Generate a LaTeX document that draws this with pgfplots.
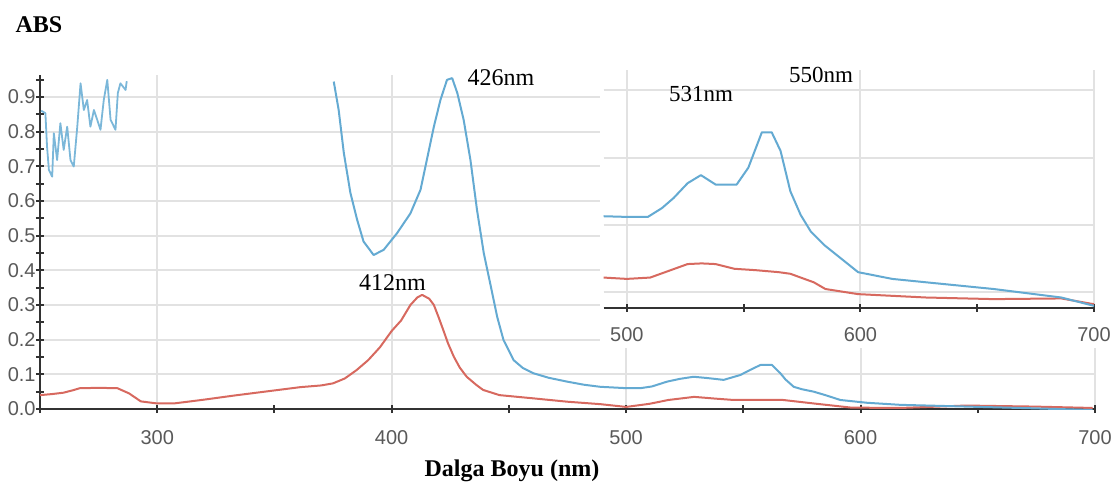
\documentclass[border=0pt]{standalone}
\usepackage{pgfplots}
\pgfplotsset{compat=1.18}
\usepackage{fontspec}
\setmainfont{Liberation Serif}
\newfontfamily\ticksans{Liberation Sans}
\definecolor{cblue}{RGB}{100,170,210}
\definecolor{cred}{RGB}{215,105,95}
\definecolor{cgrid}{RGB}{226,226,226}
\definecolor{caxis}{RGB}{50,50,50}
\begin{document}
\begin{tikzpicture}
\path[use as bounding box] (0pt,0pt) rectangle (559pt,242pt);
\begin{axis}[
  at={(20pt,37.5pt)}, anchor=south west, scale only axis,
  width=527.5pt, height=167pt,
  xmin=250, xmax=700, ymin=0, ymax=0.963,
  axis x line*=bottom, axis y line*=left,
  axis line style={line width=1pt, color=caxis},
  xtick={300,400,500,600,700}, xticklabels={300,400,500,600,700},
  minor xtick={250,350,450,550,650},
  ytick={0,0.1,0.2,0.3,0.4,0.5,0.6,0.7,0.8,0.9},
  yticklabels={0.0,0.1,0.2,0.3,0.4,0.5,0.6,0.7,0.8,0.9},
  minor ytick={0.05,0.15,0.25,0.35,0.45,0.55,0.65,0.75,0.85,0.95},
  tick align=center, major tick length=4pt, minor tick length=4pt,
  every tick/.style={line width=1pt, caxis},
  grid=major, major grid style={cgrid, line width=1pt},
  tick label style={font=\ticksans\fontsize{10}{12}\selectfont, text=black!65},
  xticklabel style={yshift=-5pt},
  yticklabel style={inner sep=1.5pt, xshift=1.5pt},
]
% red (main)
\addplot[cred, line width=1pt, line join=round] coordinates {
(250,0.040)(255,0.043)(260,0.047)(264,0.054)(267,0.060)(275,0.061)(283,0.060)
(288,0.045)(293,0.022)(300,0.016)(307,0.016)(313,0.021)(320,0.027)(333,0.039)
(347,0.051)(361,0.063)(370,0.068)(375,0.074)(380,0.088)(385,0.112)(390,0.141)
(395,0.178)(400,0.225)(404,0.255)(408,0.300)(411,0.322)(413,0.329)(416,0.318)
(418,0.300)(420,0.265)(422,0.228)(424,0.190)(426.5,0.151)(429,0.120)(432,0.093)
(436,0.070)(439,0.055)(446,0.040)(460,0.031)(475,0.021)(489,0.014)(500,0.006)
(510,0.015)(518,0.026)(529,0.035)(538,0.030)(546,0.026)(567,0.026)(580,0.016)
(596,0.004)(617,0.003)(645,0.010)(674,0.007)(699,0.003)};
% blue noisy start
\addplot[cblue!85, line width=0.9pt, line join=round] coordinates {
(250.5,0.86)(252.3,0.853)(253,0.757)(253.8,0.689)(255.2,0.670)(255.9,0.795)(257.3,0.718)
(258.7,0.824)(260.1,0.747)(261.6,0.814)(263,0.718)(264.4,0.699)(265.9,0.814)
(267.3,0.939)(268.7,0.862)(270.1,0.891)(271.5,0.814)(273,0.862)(274.4,0.834)
(275.8,0.805)(277.2,0.891)(278.7,0.949)(280.1,0.834)(282.2,0.805)(283.2,0.911)
(284.3,0.939)(286.5,0.920)(287,0.945)};
% blue main
\addplot[cblue, line width=1pt, line join=round] coordinates {
(375.3,0.944)(377.4,0.862)(379.6,0.738)(382.4,0.623)(385.3,0.545)(388,0.483)
(392.3,0.444)(396.6,0.459)(402.3,0.507)(408,0.564)(412.3,0.632)(415,0.718)
(418,0.814)(420.8,0.891)(423.6,0.949)(425.8,0.954)(428,0.911)(430.7,0.834)
(433.6,0.718)(436.4,0.574)(439.3,0.449)(442,0.363)(445,0.266)(447.7,0.199)
(452,0.141)(456,0.118)(460.5,0.103)(467,0.090)(474.8,0.079)(482,0.070)
(489,0.064)(500.4,0.060)(506,0.060)(511,0.065)(517.5,0.079)(523,0.087)
(528.8,0.093)(535,0.089)(541.6,0.084)(548.7,0.098)(553,0.113)(557.3,0.127)
(562.2,0.127)(565.8,0.103)(568,0.085)(571.5,0.064)(575,0.057)(580,0.050)
(585,0.040)(591.4,0.026)(602.7,0.018)(617,0.012)(645.4,0.007)(673.7,0.002)
(699,-0.003)};
\end{axis}
\fill[white] (300pt,68pt) rectangle (552pt,211pt);
\begin{axis}[
  at={(301.75pt,88.2pt)}, anchor=south west, scale only axis,
  width=245.25pt, height=118.8pt,
  xmin=490, xmax=700, ymin=-0.0113, ymax=0.165,
  axis x line*=bottom, axis y line*=left,
  x axis line style={line width=1pt, color=caxis},
  y axis line style={draw=none},
  xtick={500,600,700}, xticklabels={500,600,700},
  minor xtick={550,650},
  ytick={0,0.05,0.1,0.15}, yticklabels={},
  tick align=center, major tick length=4pt, minor tick length=4pt,
  every tick/.style={line width=1pt, caxis},
  ytick style={draw=none},
  xmajorgrids=true, ymajorgrids=true,
  major grid style={cgrid, line width=1pt},
  tick label style={font=\ticksans\fontsize{10}{12}\selectfont, text=black!65},
  xticklabel style={yshift=-4.5pt},
]
\addplot[cred, line width=1pt, line join=round] coordinates {
(490,0.011)(500,0.010)(510,0.011)(518,0.016)(526,0.021)(532,0.0215)(538,0.021)
(546,0.0175)(555,0.0165)(565,0.015)(570,0.0138)(576,0.010)(580,0.0075)(585,0.0025)
(599,-0.0013)(628,-0.0038)(657,-0.005)(686,-0.0045)(700,-0.0088)};
\addplot[cblue, line width=1pt, line join=round] coordinates {
(490,0.0565)(500,0.056)(509,0.056)(515,0.0625)(520,0.070)(526,0.081)(531.7,0.087)
(538,0.080)(547,0.080)(552,0.0925)(557.8,0.1188)(562,0.1188)(565.8,0.105)(570,0.075)
(574.4,0.0575)(578.8,0.045)(584.6,0.035)(591.8,0.025)(599,0.015)(613.6,0.010)
(628,0.0075)(657,0.0025)(686,-0.0038)(700,-0.010)};
\end{axis}
\node[font=\bfseries\fontsize{12}{14}\selectfont] at (19.5pt,229.5pt) {ABS};
\node[font=\bfseries\fontsize{12}{14}\selectfont] at (256pt,6.6pt) {Dalga Boyu (nm)};
\node[font=\fontsize{12}{14}\selectfont] at (250.5pt,203pt) {426nm};
\node[font=\fontsize{12}{14}\selectfont] at (196.25pt,100.5pt) {412nm};
\node[font=\fontsize{11.5}{14}\selectfont] at (350.5pt,195pt) {531nm};
\node[font=\fontsize{11.5}{14}\selectfont] at (410.5pt,204.5pt) {550nm};
\end{tikzpicture}
\end{document}
